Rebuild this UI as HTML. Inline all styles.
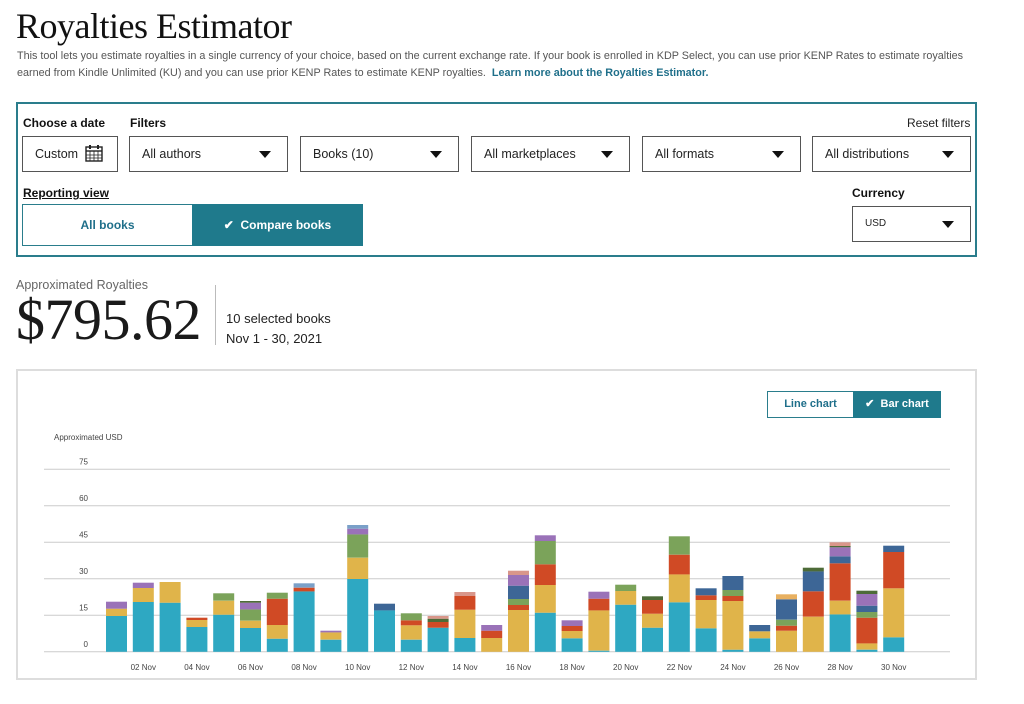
<!DOCTYPE html>
<html><head><meta charset="utf-8"><style>
*{margin:0;padding:0;box-sizing:border-box}
body{width:1024px;height:704px;background:#fff;position:relative;overflow:hidden;font-family:"Liberation Sans",sans-serif;color:#111}
.a{position:absolute;white-space:nowrap}
.serif{font-family:"Liberation Serif",serif}
.dd{position:absolute;border:1px solid #555;height:36px;font-size:12.5px;color:#222;padding:0 0 0 12px;line-height:34px}
.tri{position:absolute;right:16px;top:14px;width:0;height:0;border-left:6px solid transparent;border-right:6px solid transparent;border-top:7px solid #111}
.lbl{font-size:12px;font-weight:bold}
</style></head><body>
<div class="a serif" style="left:16px;top:5px;font-size:36px;letter-spacing:-0.5px">Royalties Estimator</div>
<div class="a" style="left:17px;top:48px;font-size:10.8px;color:#555;line-height:17px">This tool lets you estimate royalties in a single currency of your choice, based on the current exchange rate. If your book is enrolled in KDP Select, you can use prior KENP Rates to estimate royalties<br>earned from Kindle Unlimited (KU) and you can use prior KENP Rates to estimate KENP royalties. &nbsp;<b style="color:#1f6f8a">Learn more about the Royalties Estimator.</b></div>

<div class="a" style="left:16px;top:102px;width:961px;height:155px;border:2px solid #2a7d8c"></div>
<div class="a lbl" style="left:23px;top:116px">Choose a date</div>
<div class="a lbl" style="left:130px;top:116px">Filters</div>
<div class="a" style="left:907px;top:116px;font-size:12px;color:#222">Reset filters</div>
<div class="dd" style="left:22px;top:136px;width:96px">Custom
<svg style="position:absolute;left:62px;top:7px" width="18" height="18" viewBox="0 0 18 18"><rect x="1" y="3" width="16" height="14" fill="none" stroke="#222" stroke-width="1.4"/><line x1="1" y1="7" x2="17" y2="7" stroke="#222" stroke-width="1.4"/><line x1="5" y1="1" x2="5" y2="5" stroke="#222" stroke-width="2"/><line x1="13" y1="1" x2="13" y2="5" stroke="#222" stroke-width="2"/><path d="M1 11H17M1 14H17M5 7V17M9 7V17M13 7V17" stroke="#222" stroke-width=".8"/></svg></div>
<div class="dd" style="left:129px;top:136px;width:159px">All authors<div class="tri"></div></div>
<div class="dd" style="left:300px;top:136px;width:159px">Books (10)<div class="tri"></div></div>
<div class="dd" style="left:471px;top:136px;width:159px">All marketplaces<div class="tri"></div></div>
<div class="dd" style="left:642px;top:136px;width:159px">All formats<div class="tri"></div></div>
<div class="dd" style="left:812px;top:136px;width:159px">All distributions<div class="tri"></div></div>
<div class="a lbl" style="left:23px;top:186px;text-decoration:underline">Reporting view</div>
<div class="a lbl" style="left:852px;top:186px">Currency</div>
<div class="dd" style="left:852px;top:206px;width:119px;font-size:10px;line-height:34px">USD<div class="tri"></div></div>
<div class="a" style="left:22px;top:204px;width:171px;height:42px;border:1px solid #2a7d8c;color:#1f6f8a;font-size:12px;font-weight:bold;text-align:center;line-height:40px">All books</div>
<div class="a" style="left:192px;top:204px;width:171px;height:42px;background:#1f7a8c;color:#fff;font-size:12px;font-weight:bold;text-align:center;line-height:42px">✔&nbsp; Compare books</div>

<div class="a" style="left:16px;top:278px;font-size:12.5px;color:#666">Approximated Royalties</div>
<div class="a serif" style="left:16px;top:286px;font-size:58px;letter-spacing:-0.5px;color:#1a1a1a">$795.62</div>
<div class="a" style="left:215px;top:285px;width:1px;height:60px;background:#bbb"></div>
<div class="a" style="left:226px;top:309px;font-size:13px;line-height:20px;color:#222">10 selected books<br>Nov 1 - 30, 2021</div>

<div class="a" style="left:16px;top:369px;width:961px;height:311px;border:2px solid #ddd"></div>
<div class="a" style="left:767px;top:391px;width:87px;height:27px;border:1px solid #2a7d8c;color:#1f6f8a;font-size:11px;font-weight:bold;text-align:center;line-height:25px">Line chart</div>
<div class="a" style="left:853px;top:391px;width:88px;height:27px;background:#1f7a8c;color:#fff;font-size:11px;font-weight:bold;text-align:center;line-height:27px">✔&nbsp; Bar chart</div>
<svg class="a" style="left:0;top:0" width="1024" height="704" id="ch">
<text x="54" y="440" font-size="8" fill="#444" font-family="Liberation Sans">Approximated USD</text>
</svg>
<script>
var s=document.getElementById('ch'),h='';
var C={t:'#2ea8c2',y:'#e0b44a',p:'#9a72b8',g:'#7ba35a',r:'#d04a25',d:'#4d6b38',b:'#3d6696',k:'#d9968a',l:'#7aa0c8',o:'#e8b060'};
[75,60,45,30,15,0].forEach(function(v,i){var y=469.3+i*36.5;h+='<line x1="44" x2="950" y1="'+y+'" y2="'+y+'" stroke="#ccc" stroke-width="1"/><text x="88" y="'+(y-5)+'" font-size="8" fill="#444" text-anchor="end" font-family="Liberation Sans">'+v+'</text>';});
var D=[
[['t',588],['y',566],['p',545]],
[['t',546],['y',504],['p',488]],
[['t',548],['y',486]],
[['t',621],['y',600],['r',593]],
[['t',584],['y',542],['g',520]],
[['t',624],['y',602],['g',568],['p',548],['d',543]],
[['t',656],['y',615],['r',536],['g',518]],
[['t',514],['r',503],['l',490]],
[['t',659],['y',637],['p',632]],
[['t',477],['y',413],['g',343],['p',326],['l',315]],
[['t',571],['b',551]],
[['t',659],['y',616],['r',601],['g',580]],
[['t',623],['r',606],['d',596],['k',588]],
[['t',654],['y',569],['r',528],['k',516]],
[['y',654],['r',632],['p',615]],
[['y',570],['r',555],['g',537],['b',497],['p',465],['k',452]],
[['t',578],['y',495],['r',433],['g',363],['p',346]],
[['t',655],['y',633],['r',618],['p',601]],
[['t',692],['y',571],['r',536],['p',515]],
[['t',554],['y',513],['g',494]],
[['t',623],['y',581],['r',540],['d',529]],
[['t',547],['y',463],['r',404],['g',349]],
[['t',625],['y',540],['r',526],['b',505]],
[['t',689],['y',543],['r',528],['g',510],['b',468]],
[['t',655],['y',634],['b',615]],
[['y',632],['r',617],['g',599],['b',538],['o',523]],
[['y',590],['r',514],['b',454],['d',443]],
[['t',583],['y',542],['r',430],['b',409],['p',382],['d',378],['k',367]],
[['t',689],['y',670],['r',593],['g',576],['b',557],['p',522],['d',512]],
[['t',652],['y',505],['r',396],['b',377]]];
D.forEach(function(bar,i){var x=106+i*26.8,prev=651.8;bar.forEach(function(sg){var top=420+sg[1]/3;h+='<rect x="'+x.toFixed(1)+'" y="'+top.toFixed(1)+'" width="21" height="'+(prev-top).toFixed(1)+'" fill="'+C[sg[0]]+'"/>';prev=top;});
if(i%2==1)h+='<text x="'+(x+10.5).toFixed(1)+'" y="670" font-size="8" fill="#444" text-anchor="middle" font-family="Liberation Sans">'+(i<9?'0':'')+(i+1)+' Nov</text>';});
s.innerHTML+=h;
</script>
</body></html>
